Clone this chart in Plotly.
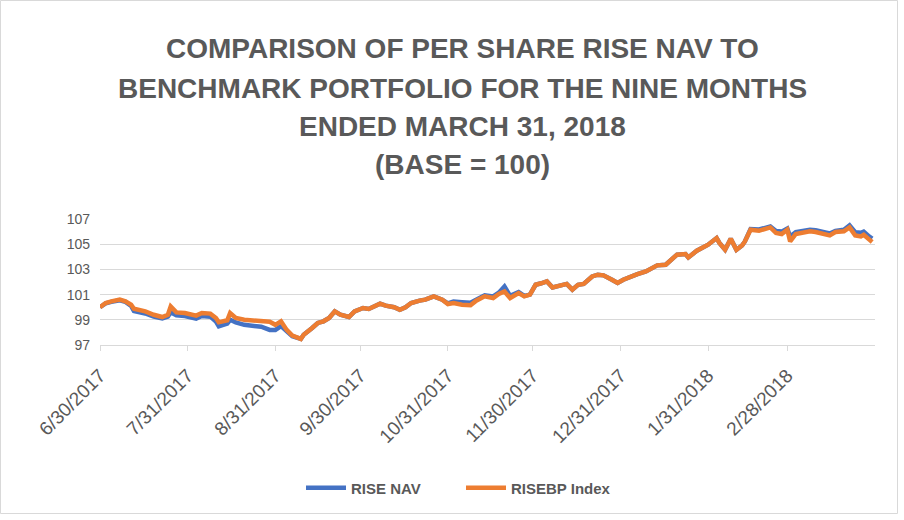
import plotly.graph_objects as go

dates = [
    "2017-06-30", "2017-07-02", "2017-07-04", "2017-07-07", "2017-07-09", "2017-07-11",
    "2017-07-12", "2017-07-16", "2017-07-19", "2017-07-22", "2017-07-24", "2017-07-25",
    "2017-07-27", "2017-07-30", "2017-08-03", "2017-08-05", "2017-08-08", "2017-08-10",
    "2017-08-11", "2017-08-14", "2017-08-15", "2017-08-17", "2017-08-20", "2017-08-23",
    "2017-08-26", "2017-08-29", "2017-08-31", "2017-09-02", "2017-09-04", "2017-09-06",
    "2017-09-09", "2017-09-10", "2017-09-13", "2017-09-15", "2017-09-17", "2017-09-19",
    "2017-09-21", "2017-09-23", "2017-09-26", "2017-09-28", "2017-10-01", "2017-10-03",
    "2017-10-07", "2017-10-09", "2017-10-12", "2017-10-14", "2017-10-16", "2017-10-18",
    "2017-10-21", "2017-10-23", "2017-10-26", "2017-10-29", "2017-10-31", "2017-11-02",
    "2017-11-05", "2017-11-08", "2017-11-10", "2017-11-13", "2017-11-16", "2017-11-18",
    "2017-11-20", "2017-11-22", "2017-11-25", "2017-11-27", "2017-11-29", "2017-12-01",
    "2017-12-03", "2017-12-05", "2017-12-07", "2017-12-10", "2017-12-12", "2017-12-14",
    "2017-12-16", "2017-12-18", "2017-12-21", "2017-12-23", "2017-12-25", "2017-12-28",
    "2017-12-30", "2018-01-01", "2018-01-03", "2018-01-06", "2018-01-09", "2018-01-11",
    "2018-01-13", "2018-01-16", "2018-01-18", "2018-01-20", "2018-01-23", "2018-01-24",
    "2018-01-27", "2018-01-29", "2018-01-31", "2018-02-03", "2018-02-04", "2018-02-06",
    "2018-02-08", "2018-02-10", "2018-02-12", "2018-02-13", "2018-02-15", "2018-02-18",
    "2018-02-20", "2018-02-22", "2018-02-24", "2018-02-26", "2018-02-28", "2018-03-01",
    "2018-03-03", "2018-03-06", "2018-03-08", "2018-03-10", "2018-03-13", "2018-03-15",
    "2018-03-17", "2018-03-20", "2018-03-22", "2018-03-24", "2018-03-26", "2018-03-27",
    "2018-03-29", "2018-03-30",
]

risebp_index = [
    100.0, 100.33, 100.46, 100.6, 100.46, 100.2,
    99.88, 99.67, 99.4, 99.22, 99.4, 100.06,
    99.59, 99.54, 99.33, 99.54, 99.49, 99.14,
    98.8, 98.96, 99.54, 99.14, 99.0, 98.93,
    98.93, 98.85, 98.6, 98.88, 98.2, 97.74,
    97.48, 97.82, 98.35, 98.75, 98.88, 99.14,
    99.67, 99.4, 99.22, 99.67, 99.94, 99.86,
    100.28, 100.12, 100.0, 99.8, 100.0, 100.33,
    100.52, 100.6, 100.86, 100.6, 100.25, 100.33,
    100.2, 100.15, 100.52, 100.86, 100.73, 101.05,
    101.25, 100.73, 101.12, 100.86, 101.0, 101.78,
    101.9, 102.05, 101.57, 101.73, 101.85, 101.39,
    101.78, 101.85, 102.44, 102.58, 102.53, 102.18,
    101.92, 102.18, 102.37, 102.63, 102.84, 103.11,
    103.32, 103.37, 103.77, 104.17, 104.22, 103.95,
    104.48, 104.7, 104.96, 105.49, 105.1, 104.56,
    105.44, 104.56, 104.9, 105.22, 106.15, 106.07,
    106.2, 106.33, 105.89, 105.81, 106.15, 105.22,
    105.81, 105.97, 106.02, 105.97, 105.81, 105.7,
    105.97, 106.02, 106.33, 105.7, 105.62, 105.75,
    105.36, 105.17,
]

rise_nav = [
    100.0, 100.3, 100.42, 100.55, 100.42, 100.1,
    99.7, 99.5, 99.25, 99.1, 99.25, 99.6,
    99.35, 99.3, 99.1, 99.3, 99.25, 98.85,
    98.48, 98.7, 99.0, 98.8, 98.6, 98.5,
    98.45, 98.2, 98.2, 98.5, 98.1, 97.7,
    97.48, 97.82, 98.35, 98.75, 98.88, 99.14,
    99.67, 99.4, 99.22, 99.67, 99.94, 99.86,
    100.28, 100.12, 100.0, 99.8, 100.0, 100.33,
    100.52, 100.6, 100.86, 100.6, 100.3, 100.45,
    100.4, 100.35, 100.6, 100.95, 100.85, 101.15,
    101.65, 100.9, 101.2, 100.9, 101.0, 101.78,
    101.9, 102.05, 101.57, 101.73, 101.85, 101.39,
    101.78, 101.85, 102.44, 102.58, 102.53, 102.18,
    101.92, 102.18, 102.37, 102.63, 102.84, 103.11,
    103.32, 103.37, 103.77, 104.17, 104.22, 103.95,
    104.48, 104.7, 104.96, 105.49, 105.1, 104.56,
    105.44, 104.56, 104.9, 105.22, 106.2, 106.17,
    106.3, 106.4, 106.05, 106.0, 106.25, 105.6,
    105.95, 106.1, 106.15, 106.1, 105.95, 105.85,
    106.05, 106.15, 106.5, 105.95, 105.9, 106.0,
    105.6, 105.44,
]

tick_dates = ["2017-06-30", "2017-07-31", "2017-08-31", "2017-09-30", "2017-10-31",
              "2017-11-30", "2017-12-31", "2018-01-31", "2018-02-28"]
tick_labels = ["6/30/2017", "7/31/2017", "8/31/2017", "9/30/2017", "10/31/2017",
               "11/30/2017", "12/31/2017", "1/31/2018", "2/28/2018"]
y_ticks = [97, 99, 101, 103, 105, 107]

title_lines = ["COMPARISON OF PER SHARE RISE NAV TO",
               "BENCHMARK PORTFOLIO FOR THE NINE MONTHS",
               "ENDED MARCH 31, 2018",
               "(BASE = 100)"]

GRAY = "#595959"
FONT = "Liberation Sans, Arial, sans-serif"

# plot area in pixels: x 100..875, y 219..345
PL, PR, PT, PB = 100, 875, 219, 345
W, H = 904, 520


def px_x(px):
    return (px - PL) / (PR - PL)


def px_y(py):
    return (PB - py) / (PB - PT)


fig = go.Figure()
fig.add_trace(go.Scatter(x=dates, y=rise_nav, mode="lines", name="RISE NAV",
                         line=dict(color="#4472C4", width=4.5)))
fig.add_trace(go.Scatter(x=dates, y=risebp_index, mode="lines", name="RISEBP Index",
                         line=dict(color="#ED7D31", width=4.5)))

title_y = [48, 88, 126, 164]
annotations = [
    dict(text=t, x=px_x(462), y=px_y(yy), xref="paper", yref="paper",
         xanchor="center", yanchor="middle", showarrow=False,
         font=dict(family=FONT, size=28, color=GRAY, weight="bold"))
    for t, yy in zip(title_lines, title_y)
]

fig.update_layout(
    width=W, height=H,
    margin=dict(l=PL, r=W - PR, t=PT, b=H - PB),
    paper_bgcolor="white", plot_bgcolor="white",
    annotations=annotations,
    xaxis=dict(type="date", range=["2017-06-30", "2018-03-31"],
               tickvals=tick_dates, ticktext=tick_labels, tickangle=-45,
               showgrid=False, showline=True, linecolor="#D9D9D9", linewidth=1,
               ticks="outside", ticklen=5, tickcolor="#D9D9D9", ticklabelstandoff=6,
               tickfont=dict(family=FONT, size=19, color=GRAY), zeroline=False,
               automargin=False),
    yaxis=dict(range=[97, 107], tickvals=y_ticks, showgrid=True, gridcolor="#D9D9D9",
               gridwidth=1, showline=False, ticks="", zeroline=False, ticklabelstandoff=9,
               tickfont=dict(family=FONT, size=14, color=GRAY), automargin=False),
    legend=dict(orientation="h", x=461 / W, xanchor="center", xref="container",
                y=1 - 488 / H, yanchor="middle", yref="container",
                font=dict(family=FONT, size=15, color=GRAY, weight="bold"), itemwidth=40,
                entrywidth=105),
    shapes=[dict(type="rect", xref="paper", yref="paper",
                 x0=px_x(0.5), x1=px_x(897.5), y0=px_y(513.5), y1=px_y(0.5),
                 line=dict(color="#D9D9D9", width=1), fillcolor="rgba(0,0,0,0)", layer="below")],
)

fig.write_html("out.html", config={"displayModeBar": False},
               post_script="document.body.style.margin='0';")
